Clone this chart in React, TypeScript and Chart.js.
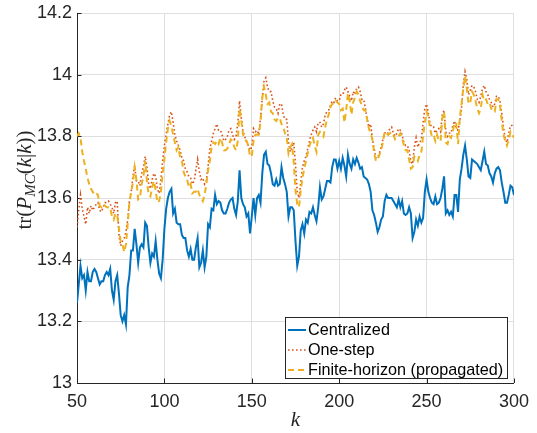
import React, { useEffect, useRef } from 'react';
import { Chart, registerables } from 'chart.js';

Chart.register(...registerables);

const K_START = 50;
const xTickValues = [50, 100, 150, 200, 250, 300];
const yTickValues = [13, 13.2, 13.4, 13.6, 13.8, 14, 14.2];
const seriesNames = ['Centralized', 'One-step', 'Finite-horizon (propagated)'];
const seriesColors = ['#0072BD', '#D95319', '#EDB120'];

const centralized = [
  13.26, 13.32, 13.38, 13.34, 13.35, 13.30, 13.36, 13.33, 13.33, 13.36,
  13.37, 13.36, 13.34, 13.32, 13.33, 13.33, 13.35, 13.36, 13.35, 13.37,
  13.30, 13.27, 13.33, 13.35, 13.29, 13.22, 13.20, 13.22, 13.19, 13.31,
  13.35, 13.43, 13.43, 13.50, 13.45, 13.39, 13.44, 13.45, 13.44, 13.52,
  13.51, 13.44, 13.39, 13.42, 13.41, 13.46, 13.40, 13.355, 13.34, 13.40,
  13.50, 13.565, 13.60, 13.62, 13.63, 13.55, 13.565, 13.52, 13.515, 13.515,
  13.48, 13.47, 13.47, 13.43, 13.41, 13.435, 13.40, 13.40, 13.44, 13.47,
  13.375, 13.39, 13.43, 13.375, 13.41, 13.515, 13.505, 13.565, 13.56, 13.61,
  13.58, 13.59, 13.585, 13.56, 13.55, 13.55, 13.565, 13.585, 13.595, 13.60,
  13.565, 13.545, 13.59, 13.69, 13.60, 13.58, 13.57, 13.54, 13.55, 13.485,
  13.54, 13.60, 13.545, 13.60, 13.61, 13.585, 13.68, 13.74, 13.75, 13.71,
  13.705, 13.68, 13.645, 13.64, 13.66, 13.64, 13.645, 13.70, 13.665, 13.645,
  13.62, 13.54, 13.57, 13.57, 13.56, 13.46, 13.38, 13.41, 13.495, 13.515,
  13.485, 13.53, 13.52, 13.555, 13.55, 13.57, 13.545, 13.525, 13.57, 13.635,
  13.595, 13.605, 13.63, 13.655, 13.655, 13.65, 13.70, 13.725, 13.725, 13.695,
  13.72, 13.695, 13.73, 13.705, 13.67, 13.74, 13.71, 13.695, 13.725, 13.71,
  13.73, 13.715, 13.695, 13.70, 13.67, 13.665, 13.66, 13.645, 13.62, 13.56,
  13.545, 13.52, 13.49, 13.505, 13.53, 13.54, 13.59, 13.61, 13.60, 13.60,
  13.60, 13.59, 13.58, 13.57, 13.595, 13.57, 13.59, 13.55, 13.545, 13.55,
  13.57, 13.55, 13.47, 13.49, 13.53, 13.51, 13.54, 13.52, 13.535, 13.62,
  13.66, 13.62, 13.60, 13.585, 13.58, 13.605, 13.58, 13.585, 13.60, 13.63,
  13.67, 13.55, 13.56, 13.545, 13.555, 13.54, 13.61, 13.61, 13.555, 13.66,
  13.695, 13.74, 13.77, 13.725, 13.67, 13.665, 13.725, 13.72, 13.715, 13.71,
  13.70, 13.69, 13.72, 13.75, 13.71, 13.705, 13.68, 13.67, 13.65, 13.68,
  13.695, 13.70, 13.69, 13.65, 13.62, 13.585, 13.585, 13.61, 13.64, 13.635,
  13.61,
];

const oneStep = [
  13.505, 13.56, 13.61, 13.565, 13.54, 13.515, 13.57, 13.55, 13.575, 13.56,
  13.57, 13.58, 13.585, 13.56, 13.555, 13.57, 13.585, 13.585, 13.59, 13.58,
  13.57, 13.55, 13.585, 13.59, 13.48, 13.445, 13.46, 13.47, 13.49, 13.53,
  13.59, 13.62, 13.67, 13.705, 13.655, 13.655, 13.64, 13.68, 13.70, 13.735,
  13.70, 13.645, 13.63, 13.66, 13.68, 13.67, 13.63, 13.615, 13.66, 13.72,
  13.77, 13.805, 13.84, 13.87, 13.88, 13.845, 13.805, 13.785, 13.77, 13.755,
  13.73, 13.72, 13.695, 13.685, 13.67, 13.665, 13.645, 13.655, 13.69, 13.725,
  13.685, 13.66, 13.665, 13.645, 13.655, 13.705, 13.76, 13.785, 13.81, 13.825,
  13.84, 13.82, 13.82, 13.805, 13.785, 13.79, 13.80, 13.82, 13.825, 13.805,
  13.79, 13.80, 13.845, 13.915, 13.86, 13.815, 13.80, 13.78, 13.77, 13.755,
  13.765, 13.825, 13.815, 13.82, 13.805, 13.86, 13.925, 13.98, 13.99, 13.96,
  13.945, 13.945, 13.915, 13.895, 13.89, 13.875, 13.905, 13.905, 13.87, 13.855,
  13.855, 13.78, 13.75, 13.765, 13.78, 13.71, 13.62, 13.60, 13.65, 13.70,
  13.72, 13.735, 13.76, 13.785, 13.805, 13.82, 13.83, 13.815, 13.845, 13.845,
  13.83, 13.84, 13.87, 13.88, 13.885, 13.90, 13.915, 13.91, 13.925, 13.915,
  13.915, 13.935, 13.935, 13.95, 13.96, 13.945, 13.93, 13.915, 13.945, 13.935,
  13.955, 13.96, 13.945, 13.92, 13.92, 13.89, 13.855, 13.83, 13.84, 13.79,
  13.76, 13.73, 13.73, 13.745, 13.765, 13.79, 13.81, 13.815, 13.81, 13.825,
  13.83, 13.81, 13.80, 13.81, 13.825, 13.82, 13.805, 13.78, 13.77, 13.77,
  13.755, 13.72, 13.71, 13.765, 13.795, 13.765, 13.78, 13.79, 13.845, 13.89,
  13.905, 13.875, 13.84, 13.83, 13.83, 13.81, 13.82, 13.825, 13.815, 13.87,
  13.885, 13.815, 13.80, 13.81, 13.81, 13.835, 13.85, 13.825, 13.82, 13.85,
  13.89, 13.97, 14.01, 13.985, 13.935, 13.95, 13.965, 13.96, 13.945, 13.92,
  13.91, 13.93, 13.955, 13.965, 13.945, 13.935, 13.92, 13.91, 13.895, 13.905,
  13.93, 13.93, 13.915, 13.875, 13.83, 13.79, 13.78, 13.81, 13.835, 13.835,
  13.83,
];

const finiteHorizon = [
  13.80, 13.81, 13.795, 13.75, 13.72, 13.695, 13.665, 13.645, 13.63, 13.62,
  13.61, 13.615, 13.61, 13.575, 13.57, 13.58, 13.575, 13.57, 13.57, 13.57,
  13.54, 13.53, 13.55, 13.545, 13.50, 13.46, 13.45, 13.425, 13.45, 13.515,
  13.585, 13.62, 13.65, 13.70, 13.66, 13.595, 13.60, 13.645, 13.67, 13.72,
  13.655, 13.61, 13.605, 13.635, 13.655, 13.625, 13.585, 13.59, 13.62, 13.68,
  13.725, 13.78, 13.825, 13.85, 13.835, 13.805, 13.78, 13.755, 13.765, 13.73,
  13.72, 13.685, 13.67, 13.66, 13.635, 13.645, 13.615, 13.62, 13.62, 13.63,
  13.61, 13.60, 13.59, 13.61, 13.645, 13.69, 13.72, 13.765, 13.78, 13.775,
  13.785, 13.775, 13.795, 13.78, 13.755, 13.755, 13.76, 13.775, 13.79, 13.785,
  13.765, 13.755, 13.785, 13.89, 13.85, 13.805, 13.79, 13.785, 13.77, 13.735,
  13.735, 13.785, 13.805, 13.805, 13.805, 13.845, 13.925, 13.96, 13.935, 13.905,
  13.91, 13.88, 13.875, 13.855, 13.85, 13.86, 13.86, 13.84, 13.83, 13.81,
  13.795, 13.745, 13.765, 13.775, 13.715, 13.625, 13.58, 13.57, 13.625, 13.665,
  13.695, 13.72, 13.745, 13.77, 13.785, 13.795, 13.77, 13.75, 13.805, 13.815,
  13.81, 13.80, 13.83, 13.855, 13.87, 13.895, 13.905, 13.905, 13.915, 13.91,
  13.905, 13.885, 13.89, 13.845, 13.885, 13.94, 13.915, 13.87, 13.91, 13.925,
  13.945, 13.935, 13.915, 13.90, 13.885, 13.885, 13.855, 13.825, 13.81, 13.79,
  13.745, 13.72, 13.725, 13.74, 13.755, 13.78, 13.815, 13.81, 13.805, 13.81,
  13.815, 13.805, 13.79, 13.795, 13.80, 13.81, 13.795, 13.77, 13.755, 13.755,
  13.725, 13.695, 13.70, 13.735, 13.73, 13.72, 13.74, 13.75, 13.80, 13.845,
  13.88, 13.865, 13.825, 13.80, 13.805, 13.785, 13.805, 13.785, 13.785, 13.86,
  13.88, 13.78, 13.775, 13.80, 13.795, 13.815, 13.845, 13.84, 13.775, 13.86,
  13.905, 13.955, 13.995, 13.955, 13.905, 13.91, 13.945, 13.935, 13.915, 13.89,
  13.875, 13.89, 13.935, 13.915, 13.92, 13.905, 13.91, 13.89, 13.88, 13.88,
  13.92, 13.92, 13.90, 13.85, 13.805, 13.785, 13.77, 13.79, 13.815, 13.805,
  13.795,
];

const toPoints = (arr: number[]) => arr.map((y, i) => ({ x: K_START + i, y }));

const AXIS_COLOR = '#262626';
const GRID_COLOR = '#dfdfdf';
const SANS = "'Liberation Sans', Arial, Helvetica, sans-serif";
const SERIF = "'Liberation Serif', 'Times New Roman', serif";

const decorPlugin = {
  id: 'decor',
  beforeDatasetsDraw(chart: any) {
    const { ctx, chartArea, scales } = chart;
    ctx.save();
    ctx.strokeStyle = AXIS_COLOR;
    ctx.lineWidth = 1;
    const tl = 4.5;
    ctx.beginPath();
    for (const v of xTickValues) {
      const x = Math.round(scales.x.getPixelForValue(v)) + 0.5;
      ctx.moveTo(x, chartArea.bottom);
      ctx.lineTo(x, chartArea.bottom - tl);
    }
    for (const v of yTickValues) {
      const y = Math.round(scales.y.getPixelForValue(v)) + 0.5;
      ctx.moveTo(chartArea.left, y);
      ctx.lineTo(chartArea.left + tl, y);
    }
    ctx.stroke();
    ctx.restore();
  },
  afterDraw(chart: any) {
    const { ctx, chartArea } = chart;
    ctx.save();
    // legend box
    const bx = 285.5, by = 317.5, bw = 222, bh = 61;
    ctx.fillStyle = '#ffffff';
    ctx.fillRect(bx, by, bw, bh);
    ctx.strokeStyle = AXIS_COLOR;
    ctx.lineWidth = 1;
    ctx.strokeRect(bx, by, bw, bh);
    const rowY = [330, 350, 370];
    const dashes = [[], [1.6, 2.4], [6, 4]];
    const widths = [2, 1.6, 2];
    ctx.font = `16.2px ${SANS}`;
    ctx.textBaseline = 'middle';
    seriesNames.forEach((name, i) => {
      ctx.beginPath();
      ctx.setLineDash(dashes[i]);
      ctx.strokeStyle = seriesColors[i];
      ctx.lineWidth = widths[i];
      ctx.moveTo(288, rowY[i]);
      ctx.lineTo(306, rowY[i]);
      ctx.stroke();
      ctx.setLineDash([]);
      ctx.fillStyle = '#000000';
      ctx.fillText(name, 308, rowY[i] + 0.5);
    });

    // x axis title
    ctx.fillStyle = AXIS_COLOR;
    ctx.font = `italic 21px ${SERIF}`;
    ctx.textAlign = 'center';
    ctx.textBaseline = 'alphabetic';
    ctx.fillText('k', (chartArea.left + chartArea.right) / 2, 426);

    // y axis title: tr(P_MC(k|k))
    ctx.translate(31, 180);
    ctx.rotate(-Math.PI / 2);
    ctx.textAlign = 'left';
    const parts = [
      { t: 'tr(', f: `21px ${SERIF}`, dy: 0 },
      { t: 'P', f: `italic 21px ${SERIF}`, dy: 0 },
      { t: 'MC', f: `italic 15px ${SERIF}`, dy: 4 },
      { t: '(', f: `21px ${SERIF}`, dy: 0 },
      { t: 'k', f: `italic 21px ${SERIF}`, dy: 0 },
      { t: '|', f: `21px ${SERIF}`, dy: 0 },
      { t: 'k', f: `italic 21px ${SERIF}`, dy: 0 },
      { t: '))', f: `21px ${SERIF}`, dy: 0 },
    ];
    let total = 0;
    const ws = parts.map((p) => {
      ctx.font = p.f;
      const w = ctx.measureText(p.t).width;
      total += w;
      return w;
    });
    let cx = -total / 2;
    parts.forEach((p, i) => {
      ctx.font = p.f;
      ctx.fillText(p.t, cx, p.dy);
      cx += ws[i];
    });
    ctx.restore();
  },
};

const fmt = (v: number) => String(Number(v.toFixed(1)));

export default function App() {
  const ref = useRef<HTMLCanvasElement | null>(null);
  useEffect(() => {
    if (!ref.current) return;
    const xTickFont = { family: SANS, size: 18 };
    const yTickFont = { family: SANS, size: 18, lineHeight: 0.6 };
    const chart = new Chart(ref.current, {
      type: 'line',
      data: {
        datasets: [
          {
            label: seriesNames[0],
            data: toPoints(centralized),
            borderColor: seriesColors[0],
            borderWidth: 2,
            pointRadius: 0,
            tension: 0,
            order: 2,
          },
          {
            label: seriesNames[1],
            data: toPoints(oneStep),
            borderColor: seriesColors[1],
            borderWidth: 1.6,
            borderDash: [1.6, 2.4],
            pointRadius: 0,
            tension: 0,
            order: 1,
          },
          {
            label: seriesNames[2],
            data: toPoints(finiteHorizon),
            borderColor: seriesColors[2],
            borderWidth: 2,
            borderDash: [6, 4],
            pointRadius: 0,
            tension: 0,
            order: 0,
          },
        ],
      },
      options: {
        animation: false,
        responsive: false,
        devicePixelRatio: 1,
        layout: { autoPadding: false, padding: { top: 13, right: 23, left: 0, bottom: 0 } },
        plugins: { legend: { display: false }, tooltip: { enabled: false } },
        scales: {
          x: {
            type: 'linear',
            min: 50,
            max: 300,
            afterBuildTicks: (s: any) => {
              s.ticks = xTickValues.map((v) => ({ value: v }));
            },
            afterFit: (s: any) => {
              s.height = 50;
            },
            grid: { color: GRID_COLOR, drawTicks: false },
            border: { color: AXIS_COLOR, width: 1 },
            ticks: { font: xTickFont, color: AXIS_COLOR, padding: 8, maxRotation: 0, callback: (v: any) => fmt(Number(v)) },
          },
          y: {
            type: 'linear',
            min: 13,
            max: 14.2,
            afterBuildTicks: (s: any) => {
              s.ticks = yTickValues.map((v) => ({ value: v }));
            },
            afterFit: (s: any) => {
              s.width = 77;
            },
            grid: { color: GRID_COLOR, drawTicks: false },
            border: { color: AXIS_COLOR, width: 1 },
            ticks: { font: yTickFont, color: AXIS_COLOR, padding: 5, callback: (v: any) => fmt(Number(v)) },
          },
        },
      } as any,
      plugins: [decorPlugin],
    });
    return () => chart.destroy();
  }, []);
  return (
    <div style={{ position: 'absolute', left: 0, top: 0, width: 537, height: 433, background: '#fff' }}>
      <canvas ref={ref} width={537} height={433} style={{ width: 537, height: 433, display: 'block' }} />
    </div>
  );
}
